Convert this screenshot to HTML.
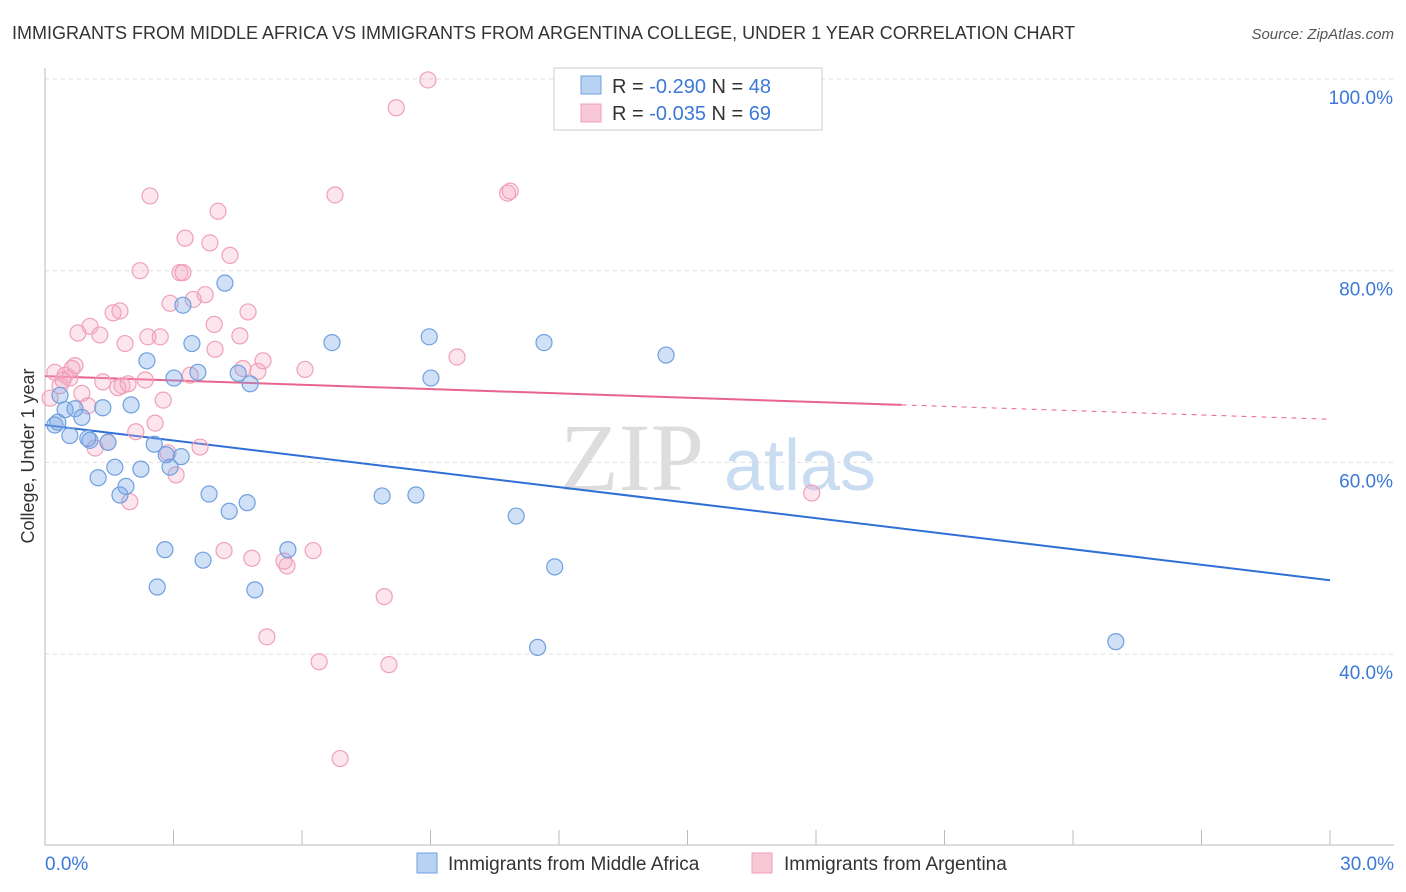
<!DOCTYPE html>
<html><head><meta charset="utf-8">
<style>
body{margin:0;background:#fff;font-family:"Liberation Sans",sans-serif;}
svg{display:block}
</style></head>
<body>
<svg id="chart" width="1406" height="892" xmlns="http://www.w3.org/2000/svg" font-family="Liberation Sans, sans-serif">
<text x="12" y="39" font-size="18" fill="#333">IMMIGRANTS FROM MIDDLE AFRICA VS IMMIGRANTS FROM ARGENTINA COLLEGE, UNDER 1 YEAR CORRELATION CHART</text>
<text x="1394" y="39" font-size="15" fill="#555" text-anchor="end" font-style="italic">Source: ZipAtlas.com</text>
<g>
<text x="632" y="490" font-size="96" fill="#ddd" font-family="Liberation Serif, serif" text-anchor="middle">ZIP</text>
<text x="800" y="490" font-size="72" fill="#c9dcf2" text-anchor="middle">atlas</text>
</g>
<g id="grid"></g>
<g id="axes"></g>
<g id="trends"></g>
<g id="points"></g>
<g>
<rect x="554" y="68" width="268" height="62" fill="#fff" stroke="#ccc"/>
<rect x="581" y="76" width="20" height="18" fill="#b8d2f4" stroke="#6fa0e0"/>
<text x="612" y="93" font-size="20" fill="#333">R = <tspan fill="#3b78d8">-0.290</tspan>   N = <tspan fill="#3b78d8">48</tspan></text>
<rect x="581" y="104" width="20" height="18" fill="#f8c8d6" stroke="#f0a0b8"/>
<text x="612" y="120" font-size="20" fill="#333">R = <tspan fill="#3b78d8">-0.035</tspan>   N = <tspan fill="#3b78d8">69</tspan></text>
</g>
<g>
<rect x="417" y="853" width="20" height="20" fill="#b8d2f4" stroke="#6fa0e0"/>
<text x="448" y="870" font-size="19" fill="#333">Immigrants from Middle Africa</text>
<rect x="752" y="853" width="20" height="20" fill="#f8c8d6" stroke="#f0a0b8"/>
<text x="784" y="870" font-size="19" fill="#333">Immigrants from Argentina</text>
</g>
<text transform="translate(34,456) rotate(-90)" font-size="18" fill="#333" text-anchor="middle">College, Under 1 year</text>
</svg>
<script>
const blueX=[.23,.30,.58,.47,.70,.86,1.35,1.05,1.24,1.47,1.63,1.75,1.89,2.24,2.01,2.38,2.55,2.83,2.80,2.62,2.92,3.01,3.18,3.22,3.43,3.57,3.69,3.83,4.20,4.30,4.51,4.79,4.72,4.90,5.67,6.70,7.87,8.66,8.97,9.01,11.0,11.5,11.65,11.9,14.5,25.0,.35,1.0];
const blueY=[63.9,64.2,62.8,65.5,65.6,64.7,65.7,62.3,58.4,62.1,59.5,56.6,57.5,59.3,66.0,70.6,61.9,60.8,50.9,47.0,59.5,68.8,60.6,76.4,72.4,69.4,49.8,56.7,78.7,54.9,69.3,68.2,55.8,46.7,50.9,72.5,56.5,56.6,73.1,68.8,54.4,40.7,72.5,49.1,71.2,41.3,67.0,62.5];
const pinkX=[.12,.23,.35,.47,.58,.70,.77,.86,1.0,1.05,1.17,1.28,1.35,1.47,1.59,1.70,1.80,1.87,1.94,1.98,2.12,2.22,2.34,2.40,2.45,2.57,2.69,2.76,2.87,2.92,3.06,3.15,3.22,3.27,3.39,3.46,3.62,3.74,3.85,3.95,4.04,3.97,4.18,4.32,4.55,4.62,4.74,4.83,4.97,5.09,5.18,5.58,5.65,6.07,6.26,6.40,6.77,6.89,7.92,8.03,8.20,8.94,9.62,10.8,10.86,17.9,.63,.42,1.75];
const pinkY=[66.7,69.4,68.0,69.1,68.8,70.1,73.5,67.2,65.9,74.2,61.5,73.3,68.4,62.1,75.6,67.8,68.0,72.4,68.2,55.9,63.2,80.0,68.6,73.1,87.8,64.1,73.1,66.5,61.0,76.6,58.7,79.8,79.8,83.4,69.1,77.0,61.6,77.5,82.9,74.4,86.2,71.8,50.8,81.6,73.2,69.8,75.7,50.0,69.5,70.6,41.8,49.7,49.2,69.7,50.8,39.2,87.9,29.1,46.0,38.9,97.0,99.9,71.0,88.1,88.3,56.8,69.8,68.6,75.8];
const blueTrend=[63.9,47.7];
const pinkTrend=[69.0,64.5];
const pinkSolidEnd=20;
const yTicks=[100,80,60,40];
const xTickLabels=["0.0%","30.0%"];
const NS="http://www.w3.org/2000/svg";
const xs=v=>45+v/30*1285;
const ys=v=>79+(100-v)*9.585;
function mk(tag,attrs,parent){const e=document.createElementNS(NS,tag);for(const k in attrs)e.setAttribute(k,attrs[k]);parent.appendChild(e);return e;}
const grid=document.getElementById('grid'),axes=document.getElementById('axes'),tr=document.getElementById('trends'),pts=document.getElementById('points');
yTicks.forEach(t=>{
 const l=mk('line',{x1:45,x2:1394,y1:ys(t),y2:ys(t),stroke:'#ddd','stroke-dasharray':'4,4'},grid);
 
 
 const tx=mk('text',{x:1393,y:ys(t)+25,'font-size':19,fill:'#3b78d8','text-anchor':'end'},grid);
 tx.textContent=t.toFixed(1)+'%';
 
 
});
const ax=mk('path',{d:'M45,68V845H1394',stroke:'#bbb',fill:'none'},axes);


for(let i=0;i<=10;i++){
 const t=mk('line',{x1:xs(i*3),x2:xs(i*3),y1:830,y2:845,stroke:'#bbb'},axes);
 
 
}
[[0,'start',45],[30,'end',1394]].forEach((d,i)=>{
 const tx=mk('text',{x:d[2],y:870,'font-size':19,fill:'#3b78d8','text-anchor':d[1]},axes);
 tx.textContent=xTickLabels[i];
 
 
});
pinkX.forEach((x,i)=>{
 const c=mk('circle',{cx:xs(x),cy:ys(pinkY[i]),r:8,fill:'rgba(245,170,195,0.3)',stroke:'#f0a0b8','stroke-width':1.2},pts);
 
 
});
blueX.forEach((x,i)=>{
 const c=mk('circle',{cx:xs(x),cy:ys(blueY[i]),r:8,fill:'rgba(120,165,230,0.35)',stroke:'#6fa0e0','stroke-width':1.2},pts);
 
 
});
const bl=mk('line',{x1:xs(0),y1:ys(blueTrend[0]),x2:xs(30),y2:ys(blueTrend[1]),stroke:'#2f6fd6','stroke-width':2},tr);


const pAt=x=>pinkTrend[0]+(pinkTrend[1]-pinkTrend[0])*x/30;
const pl=mk('line',{x1:xs(0),y1:ys(pAt(0)),x2:xs(pinkSolidEnd),y2:ys(pAt(pinkSolidEnd)),stroke:'#e8648f','stroke-width':2},tr);


const pd=mk('line',{x1:xs(pinkSolidEnd),y1:ys(pAt(pinkSolidEnd)),x2:xs(30),y2:ys(pAt(30)),stroke:'#e8648f','stroke-width':1,'stroke-dasharray':'5,5'},tr);


</script>
</body></html>
